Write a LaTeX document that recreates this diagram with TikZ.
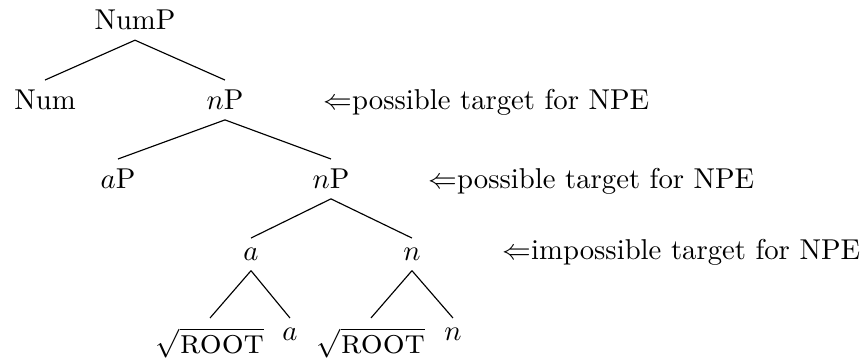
\documentclass[tikz,border=0pt]{standalone}
\usepackage{fontspec}
\begin{document}
\begin{tikzpicture}[tn/.style={anchor=north},lbl/.style={anchor=base west,inner sep=0pt}]
\useasboundingbox (0,0) rectangle (10.544,-4.409);
\node[tn] (NumP) at (1.653,0) {NumP};
\node[tn] (Num) at (0.551,-0.980) {Num};
\node[tn] (nP1) at (2.755,-0.980) {$n$P};
\node[tn] (aP) at (1.445,-1.947) {$a$P};
\node[tn] (nP2) at (4.053,-1.947) {$n$P};
\node[tn] (a) at (3.074,-2.915) {$a$};
\node[tn] (n) at (5.045,-2.915) {$n$};
\node[tn] (rootA) at (2.572,-3.894) {$\sqrt{\mbox{\large\textsc{root}}}$};
\node[tn] (aleaf) at (3.551,-3.894) {$a$};
\node[tn] (rootN) at (4.543,-3.894) {$\sqrt{\mbox{\large\textsc{root}}}$};
\node[tn] (nleaf) at (5.547,-3.894) {$n$};
% 分支
\draw (NumP.south) -- (Num.north);
\draw (NumP.south) -- (nP1.north);
\draw (nP1.south) -- (aP.north);
\draw (nP1.south) -- (nP2.north);
\draw (nP2.south) -- (a.north);
\draw (nP2.south) -- (n.north);
\draw (a.south) -- (rootA.north);
\draw (a.south) -- (aleaf.north);
\draw (n.south) -- (rootN.north);
\draw (n.south) -- (nleaf.north);
% 标注
\node[lbl] (t1) at (3.955,-1.337) {$\Leftarrow$possible target for NPE};
\node[lbl] (t2) at (5.241,-2.305) {$\Leftarrow$possible target for NPE};
\node[lbl] (t3) at (6.147,-3.184) {$\Leftarrow$impossible target for NPE};
\end{tikzpicture}
\end{document}
